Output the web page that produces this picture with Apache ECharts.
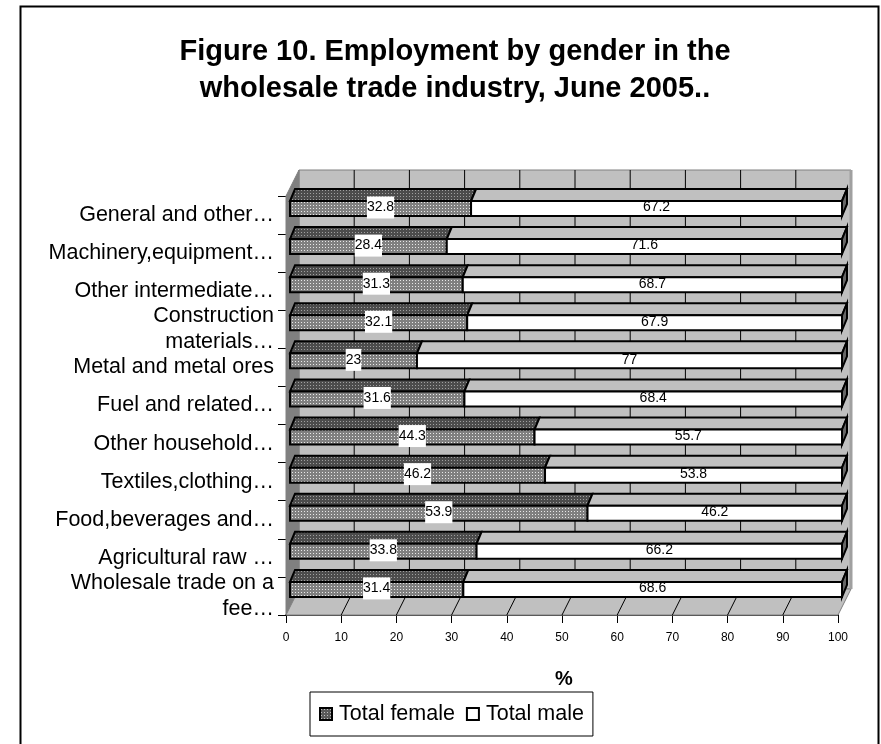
<!DOCTYPE html>
<html><head><meta charset="utf-8">
<style>html,body{margin:0;padding:0;background:#fff}#c{width:881px;height:744px}</style>
<script src="https://cdn.jsdelivr.net/npm/echarts@6/dist/echarts.min.js"></script>
</head><body><div id="c"></div>
<script>
const categories=["Wholesale trade on a\nfee…","Agricultural raw …","Food,beverages and…","Textiles,clothing…","Other household…","Fuel and related…","Metal and metal ores","Construction\nmaterials…","Other intermediate…","Machinery,equipment…","General and other…"];
const femaleValues=[31.4,33.8,53.9,46.2,44.3,31.6,23,32.1,31.3,28.4,32.8];
const maleValues=[68.6,66.2,46.2,53.8,55.7,68.4,77,67.9,68.7,71.6,67.2];
const xTicks=[0,10,20,30,40,50,60,70,80,90,100];
const titleText="Figure 10. Employment by gender in the\nwholesale trade industry, June 2005..";
const FONT='"Liberation Sans",Arial,sans-serif';
const WALL={dx:13,dy:-26}, BAR={x:4,dy:5,h:15,tx:5,ty:-12};

function pat(size,dark,light,fn){
  const c=document.createElement('canvas');c.width=c.height=size;const g=c.getContext('2d');
  g.fillStyle=light;g.fillRect(0,0,size,size);g.fillStyle=dark;
  for(let y=0;y<size;y++)for(let x=0;x<size;x++)if(fn(x,y))g.fillRect(x,y,1,1);
  return {image:c,repeat:'repeat'};
}
const dots=(x,y)=>!((x===1&&y===1));
const frontPat=pat(3,'#808080','#e8e8e8',dots);
const topPat=pat(3,'#4c4c4c','#a0a0a0',dots);
const legendPat=pat(3,'#5a5a5a','#c0c0c0',dots);

function bounds(api){
  const band=api.size([0,1])[1];
  const l=api.coord([0,0])[0], r=api.coord([100,0])[0];
  const b=api.coord([0,0])[1]+band/2, t=api.coord([0,categories.length-1])[1]-band/2;
  return {l,r,t,b};
}
function poly(points,fill,stroke,lw){
  return {type:'polygon',shape:{points},style:{fill,stroke:stroke||null,lineWidth:lw||0}};
}
function renderWalls(params,api){
  const {l,r,t,b}=bounds(api), d=WALL;
  const ch=[
    poly([[l+d.dx,t+d.dy],[r+d.dx,t+d.dy],[r+d.dx,b+d.dy],[l+d.dx,b+d.dy]],'#c0c0c0','#808080',1),
    poly([[l,t],[l+d.dx,t+d.dy],[l+d.dx,b+d.dy],[l,b]],'#808080','#808080',1),
    poly([[l,b],[l+d.dx,b+d.dy],[r+d.dx,b+d.dy],[r,b]],'#c0c0c0','#808080',1)
  ];
  xTicks.slice(1,-1).forEach(v=>{
    const x=api.coord([v,0])[0];
    ch.push({type:'line',shape:{x1:x,y1:b,x2:x+d.dx,y2:b+d.dy},style:{stroke:'#000',lineWidth:1}});
    ch.push({type:'line',shape:{x1:x+d.dx,y1:b+d.dy,x2:x+d.dx,y2:t+d.dy},style:{stroke:'#000',lineWidth:1}});
  });
  ch.push({type:'line',shape:{x1:r+d.dx,y1:t+d.dy,x2:r+d.dx,y2:b+d.dy},style:{stroke:'#a0a0a0',lineWidth:3}});
  return {type:'group',children:ch};
}
function makeBar(front,top,side){
  return function(params,api){
    const s=api.coord([api.value(0),api.value(2)]), e=api.coord([Math.min(api.value(1),100),api.value(2)]);
    const band=api.size([0,1])[1], y0=s[1]-band/2+BAR.dy, y1=y0+BAR.h;
    const x0=s[0]+BAR.x, x1=e[0]+BAR.x, tx=BAR.tx, ty=BAR.ty;
    const ch=[
      poly([[x0,y0],[x0+tx,y0+ty],[x1+tx,y0+ty],[x1,y0]],top,'#000',2),
      poly([[x0,y0],[x1,y0],[x1,y1],[x0,y1]],front,'#000',2),
    ];
    if(side) ch.push(poly([[x1,y0],[x1+tx,y0+ty],[x1+tx,y1+ty],[x1,y1]],side,'#000',2));
    return {type:'group',children:ch};
  };
}
function makeLabel(withBox){
  return function(params,api){
    const s=api.coord([api.value(0),api.value(2)]), e=api.coord([Math.min(api.value(1),100),api.value(2)]);
    const band=api.size([0,1])[1], cy=s[1]-band/2+BAR.dy+BAR.h/2-1;
    const style={text:String(api.value(3)),fill:'#000',font:'14px '+FONT,align:'center',verticalAlign:'middle'};
    if(withBox){style.backgroundColor='#fff';style.padding=[4,0,4,0];}
    return {type:'text',x:(s[0]+e[0])/2+BAR.x,y:cy,style};
  };
}
const femaleData=femaleValues.map((v,i)=>[0,v,i,v]);
const maleData=maleValues.map((v,i)=>[femaleValues[i],femaleValues[i]+v,i,v]);
const ENC={x:[0,1],y:2};
const chart=echarts.init(document.getElementById('c'),null,{renderer:'canvas'});
chart.setOption({
  animation:false,
  backgroundColor:'#fff',
  graphic:[{type:'rect',z:-10,shape:{x:20.5,y:6.5,width:858,height:760},style:{fill:'#fff',stroke:'#000',lineWidth:2}}],
  title:{text:titleText,left:450,top:28,textAlign:'center',textStyle:{fontFamily:FONT,fontSize:29,fontWeight:'bold',color:'#000',lineHeight:37,align:'center'}},
  grid:{left:286,right:43,top:196,bottom:129,containLabel:false},
  legend:{data:['Total female','Total male'],left:310,top:692,padding:[11,9,11,9],orient:'horizontal',itemGap:11,itemWidth:12,itemHeight:12,icon:'rect',borderColor:'#000',borderWidth:1,backgroundColor:'#fff',selectedMode:false,textStyle:{fontFamily:FONT,fontSize:21.5,color:'#000',padding:[0,0,0,2]}},
  xAxis:{type:'value',min:0,max:100,interval:10,name:'%',nameLocation:'middle',nameGap:54,nameTextStyle:{fontFamily:FONT,fontSize:20,fontWeight:'bold',color:'#000',padding:[0,0,0,4]},
    axisLine:{show:true,lineStyle:{color:'#333',width:2}},axisTick:{show:true,length:8,lineStyle:{color:'#000'}},splitLine:{show:false},
    axisLabel:{margin:17,fontFamily:FONT,fontSize:12,color:'#000',showMinLabel:true,showMaxLabel:true}},
  yAxis:{type:'category',data:categories,axisLine:{show:true,lineStyle:{color:'#000',width:1}},axisTick:{show:true,length:8,lineStyle:{color:'#000'}},
    axisLabel:{margin:12,fontFamily:FONT,fontSize:21.5,lineHeight:26,color:'#000',align:'right',interval:0,padding:[2,0,0,0]}},
  series:[
    {name:'walls',type:'custom',renderItem:renderWalls,data:[[0,0,0]],encode:ENC,silent:true,z:1,clip:false},
    {name:'Total female',type:'custom',renderItem:makeBar(frontPat,topPat,null),data:femaleData,encode:ENC,itemStyle:{color:legendPat,borderColor:'#000',borderWidth:2},z:2,clip:false},
    {name:'Total male',type:'custom',renderItem:makeBar('#ffffff','#c0c0c0','#666666'),data:maleData,encode:ENC,itemStyle:{color:'#fff',borderColor:'#000',borderWidth:2},z:2,clip:false},
    {name:'female labels',type:'custom',renderItem:makeLabel(true),data:femaleData,encode:ENC,silent:true,z:3,clip:false},
    {name:'male labels',type:'custom',renderItem:makeLabel(false),data:maleData,encode:ENC,silent:true,z:3,clip:false}
  ]
});
</script></body></html>
